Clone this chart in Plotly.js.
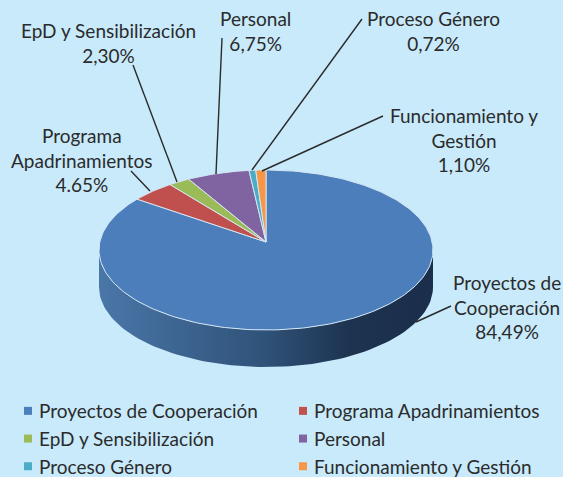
<!DOCTYPE html>
<html>
<head>
<meta charset="utf-8">
<script src="https://cdn.plot.ly/plotly-3.0.1.min.js"></script>
<style>html,body{margin:0;padding:0;background:#c8eafb;overflow:hidden}</style>
</head>
<body>
<div id="chart" style="width:563px;height:477px"></div>
<script>
const categories = ["Proyectos de Cooperación","Programa Apadrinamientos","EpD y Sensibilización","Personal","Proceso Género","Funcionamiento y Gestión"];
const values = [84.49,4.65,2.30,6.75,0.72,1.10];
const valueLabels = ["84,49%","4.65%","2,30%","6,75%","0,72%","1,10%"];
const wrappedNames = ["Proyectos de<br>Cooperación","Programa<br>Apadrinamientos","EpD y Sensibilización","Personal","Proceso Género","Funcionamiento y<br>Gestión"];
const colors = ["#4b7ebb","#c0504d","#9bbb59","#8064a2","#4bacc6","#f79646"];
const labelX = [507,82,108,255,433,464];
const labelY = [307,160,43,31,31,140];
const leaderEnd = [[451,306],[131,171],[133,65],[222,38],[362,19],[383,116]];
const leaderStart = [[416,322],[150,191],[177,182],[216,174],[252,170],[262,171]];

const cx=266, cy=250, rx=167, ry=80, apexY=242, depth=37, warp=0.89;
const FONT='Lato, "Open Sans", sans-serif', INK='#2b2b2b';
const total = values.reduce((a,b)=>a+b,0);

function rim(pct){
  const phi=pct/total*2*Math.PI;
  const t=2*Math.atan2(warp*Math.sin(phi/2),Math.cos(phi/2));
  return [cx+rx*Math.sin(t), cy-ry*Math.cos(t)];
}
const traces=[];
// side wall
const sx=[],sy=[];
for(let a=90;a<=270;a+=2){const r=a*Math.PI/180;sx.push(cx+rx*Math.sin(r));sy.push(cy-ry*Math.cos(r));}
for(let a=270;a>=90;a-=2){const r=a*Math.PI/180;sx.push(cx+rx*Math.sin(r));sy.push(cy-ry*Math.cos(r)+depth);}
traces.push({type:'scatter',mode:'lines',x:sx,y:sy,fill:'toself',line:{width:0,color:'rgba(0,0,0,0)'},
  fillgradient:{type:'horizontal',colorscale:[[0,'#4a76a8'],[0.5,'#2f5278'],[0.75,'#1d3350'],[1,'#1b2e4b']]},
  showlegend:false,hoverinfo:'skip'});
// slices
let acc=0;
values.forEach((v,i)=>{
  const xs=[cx],ys=[apexY];
  const n=Math.max(2,Math.ceil(v*3));
  for(let k=0;k<=n;k++){const p=rim(acc+v*k/n);xs.push(p[0]);ys.push(p[1]);}
  xs.push(cx);ys.push(apexY);
  traces.push({type:'scatter',mode:'lines',x:xs,y:ys,fill:'toself',fillcolor:colors[i],
    line:{color:'#d4e6f4',width:1},name:categories[i],showlegend:false,hoverinfo:'name'});
  acc+=v;
});
// legend entries
categories.forEach((c,i)=>{
  traces.push({type:'scatter',mode:'markers',x:[null],y:[null],name:c,
    marker:{symbol:'square',size:8,color:colors[i]},
    legend:i%2?'legend2':'legend',legendgroup:'g'+i,hoverinfo:'skip'});
});
const legendBase={bgcolor:'rgba(0,0,0,0)',font:{family:FONT,size:19,color:INK},tracegroupgap:0,
  itemwidth:30,yanchor:'top',xanchor:'left',orientation:'v',itemclick:false,itemdoubleclick:false};
const annotations=categories.map((c,i)=>({
  x:labelX[i],y:labelY[i],xref:'x',yref:'y',showarrow:false,align:'center',
  text:wrappedNames[i]+'<br>'+valueLabels[i],font:{family:FONT,size:19,color:INK}
}));
const shapes=leaderStart.map((s,i)=>({type:'line',xref:'x',yref:'y',x0:s[0],y0:s[1],x1:leaderEnd[i][0],y1:leaderEnd[i][1],
  line:{color:'#2b2b2b',width:1.4}}));
const layout={width:563,height:477,margin:{l:0,r:0,t:0,b:0,autoexpand:false},paper_bgcolor:'#c8eafb',plot_bgcolor:'#c8eafb',
  xaxis:{range:[0,563],visible:false,fixedrange:true},
  yaxis:{range:[477,0],visible:false,fixedrange:true},
  showlegend:true,
  legend:Object.assign({},legendBase,{x:8/563,y:1-392/477}),
  legend2:Object.assign({},legendBase,{x:283/563,y:1-392/477}),
  annotations,shapes};
// tighten the swatch-to-text gap, which the legend cannot go below on its own
function tightenLegend(gd){
  gd.querySelectorAll('.legendtext, .legend2text').forEach(t=>t.setAttribute('x',31));
}
Plotly.newPlot('chart',traces,layout,{displayModeBar:false}).then(gd=>{
  gd.on('plotly_afterplot',()=>tightenLegend(gd));
  tightenLegend(gd);
});
</script>
</body>
</html>
